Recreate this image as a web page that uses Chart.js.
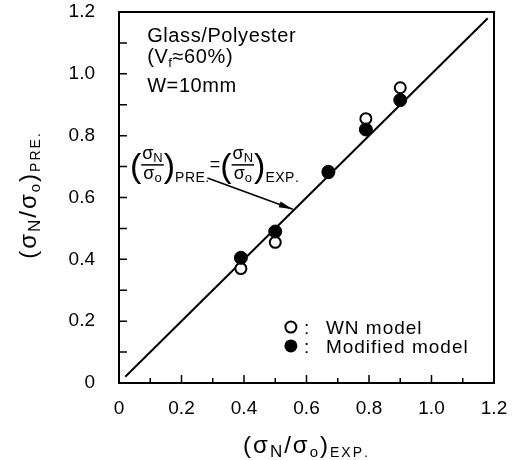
<!DOCTYPE html>
<html>
<head>
<meta charset="utf-8">
<script src="https://cdn.jsdelivr.net/npm/chart.js@4.4.1/dist/chart.umd.min.js"></script>
<style>
  html, body { margin: 0; padding: 0; background: #fff; }
</style>
</head>
<body>
<canvas id="chart" width="512" height="460"></canvas>
<script>
// values
const expRatio = [0.39, 0.50, 0.67, 0.79, 0.90];
const wnModel = [0.37, 0.455, 0.68, 0.855, 0.955];
const modifiedModel = [0.405, 0.49, 0.683, 0.82, 0.915];
const equalityLine = [0.02, 1.18];
const tickLabels = ['0', '0.2', '0.4', '0.6', '0.8', '1.0', '1.2'];
const seriesNames = ['WN model', 'Modified model'];

const FONT = '"Liberation Sans", Arial, sans-serif';

// draws (or just measures) a run of text pieces [text, size, dy]
function parts(ctx, list, x, y, gap, draw) {
  let cx = x;
  for (const [t, size, dy] of list) {
    ctx.font = size + 'px ' + FONT;
    for (const ch of t) {
      if (draw) ctx.fillText(ch, cx, y + dy);
      cx += ctx.measureText(ch).width + gap;
    }
  }
  return cx - x;
}

function fraction(ctx, x, cy, sub) {
  ctx.font = '34px ' + FONT;
  const pw = ctx.measureText('(').width;
  ctx.fillText('(', x, cy + 10);
  const num = [['σ', 18, 0], ['N', 13, 3]];
  const den = [['σ', 18, 0], ['o', 13, 3]];
  const nw = parts(ctx, num, 0, 0, 0, false);
  const dw = parts(ctx, den, 0, 0, 0, false);
  const fw = Math.max(nw, dw) + 2;
  parts(ctx, num, x + pw + (fw - nw) / 2, cy - 8, 0, true);
  parts(ctx, den, x + pw + (fw - dw) / 2, cy + 12, 0, true);
  ctx.lineWidth = 1.5;
  ctx.beginPath();
  ctx.moveTo(x + pw, cy - 2);
  ctx.lineTo(x + pw + fw, cy - 2);
  ctx.stroke();
  ctx.font = '34px ' + FONT;
  ctx.fillText(')', x + pw + fw, cy + 10);
  const w = parts(ctx, [[sub, 14, 0]], x + 2 * pw + fw, cy + 15, 0.5, true);
  return 2 * pw + fw + w;
}

const decorations = {
  id: 'decorations',
  afterDraw(chart) {
    const { ctx, chartArea: a, scales: { x, y } } = chart;
    ctx.save();
    ctx.strokeStyle = '#000';
    ctx.fillStyle = '#000';
    ctx.textBaseline = 'alphabetic';
    ctx.textAlign = 'left';

    // frame
    ctx.lineWidth = 2;
    ctx.strokeRect(a.left, a.top, a.right - a.left, a.bottom - a.top);

    // inward ticks every 0.1
    ctx.lineWidth = 1.5;
    ctx.beginPath();
    for (let i = 1; i < 12; i++) {
      const px = x.getPixelForValue(i / 10);
      const len = i % 2 === 0 ? 8 : 5;
      ctx.moveTo(px, a.bottom);
      ctx.lineTo(px, a.bottom - len);
      const py = y.getPixelForValue(i / 10);
      ctx.moveTo(a.left, py);
      ctx.lineTo(a.left + 8, py);
    }
    ctx.stroke();

    // axis titles
    const xt = [['(', 24, 0], ['σ', 24, 0], ['N', 17, 4], ['/', 24, 0], ['σ', 24, 0], ['o', 15, 4], [')', 24, 0], ['EXP.', 14, 4]];
    const xw = parts(ctx, xt, 0, 0, 2, false);
    parts(ctx, xt, (a.left + a.right) / 2 - xw / 2, 453, 2, true);

    const yt = [['(', 24, 0], ['σ', 24, 0], ['N', 17, 4], ['/', 24, 0], ['σ', 24, 0], ['o', 15, 4], [')', 24, 0], ['PRE.', 14, 4]];
    const yw = parts(ctx, yt, 0, 0, 2, false);
    ctx.save();
    ctx.translate(36, 195);
    ctx.rotate(-Math.PI / 2);
    parts(ctx, yt, -yw / 2, 0, 2, true);
    ctx.restore();

    // material note
    const nx = x.getPixelForValue(0.09);
    parts(ctx, [['Glass/Polyester', 20, 0]], nx, 42, 0.6, true);
    parts(ctx, [['(V', 20, 0], ['f', 13, 4], ['≈60%)', 20, 0]], nx, 63, 0.6, true);
    parts(ctx, [['W=10mm', 20, 0]], nx, 92, 0.6, true);

    // equality annotation
    const ax = x.getPixelForValue(0.035);
    const ay = y.getPixelForValue(0.699);
    let cx = ax + fraction(ctx, ax, ay, 'PRE.');
    cx += parts(ctx, [['=', 18, 0]], cx, ay + 3, 0, true);
    fraction(ctx, cx, ay, 'EXP.');

    // arrow to the line
    const tx = x.getPixelForValue(0.283), ty = y.getPixelForValue(0.663);
    const hx = x.getPixelForValue(0.556), hy = y.getPixelForValue(0.562);
    const ang = Math.atan2(hy - ty, hx - tx);
    ctx.lineWidth = 1.5;
    ctx.beginPath();
    ctx.moveTo(tx, ty);
    ctx.lineTo(hx, hy);
    ctx.stroke();
    ctx.beginPath();
    ctx.moveTo(hx, hy);
    ctx.lineTo(hx - 14 * Math.cos(ang) + 3 * Math.sin(ang), hy - 14 * Math.sin(ang) - 3 * Math.cos(ang));
    ctx.lineTo(hx - 14 * Math.cos(ang) - 3 * Math.sin(ang), hy - 14 * Math.sin(ang) + 3 * Math.cos(ang));
    ctx.closePath();
    ctx.fill();

    // legend
    const lx = x.getPixelForValue(0.55);
    const rows = [y.getPixelForValue(0.181), y.getPixelForValue(0.12)];
    ctx.lineWidth = 2;
    ctx.beginPath();
    ctx.arc(lx, rows[0], 5.5, 0, Math.PI * 2);
    ctx.fillStyle = '#fff';
    ctx.fill();
    ctx.stroke();
    ctx.fillStyle = '#000';
    ctx.beginPath();
    ctx.arc(lx, rows[1], 6.5, 0, Math.PI * 2);
    ctx.fill();
    seriesNames.forEach((name, i) => {
      parts(ctx, [[':', 19, 0]], lx + 13, rows[i] + 7, 0, true);
      parts(ctx, [[name, 19, 0]], lx + 35, rows[i] + 7, 1, true);
    });

    ctx.restore();
  }
};

new Chart(document.getElementById('chart'), {
  type: 'scatter',
  data: {
    datasets: [
      {
        label: seriesNames[1],
        data: expRatio.map((v, i) => ({ x: v, y: modifiedModel[i] })),
        pointRadius: 6.5,
        pointBackgroundColor: '#000',
        pointBorderColor: '#000',
        pointBorderWidth: 1,
        order: 1
      },
      {
        label: seriesNames[0],
        data: expRatio.map((v, i) => ({ x: v, y: wnModel[i] })),
        pointRadius: 5.5,
        pointBackgroundColor: '#fff',
        pointBorderColor: '#000',
        pointBorderWidth: 2,
        order: 2
      },
      {
        type: 'line',
        label: 'equality',
        data: equalityLine.map(v => ({ x: v, y: v })),
        borderColor: '#000',
        borderWidth: 2,
        pointRadius: 0,
        fill: false,
        order: 3
      }
    ]
  },
  options: {
    responsive: false,
    animation: false,
    devicePixelRatio: 1,
    layout: { padding: { top: 12, right: 18, left: 0, bottom: 0 } },
    plugins: { legend: { display: false }, tooltip: { enabled: false } },
    scales: {
      x: {
        type: 'linear',
        min: 0, max: 1.2,
        // grid hidden, tickLength only used to push the labels down
        grid: { display: false, drawTicks: true, tickLength: 14 },
        border: { display: false },
        ticks: {
          stepSize: 0.2,
          padding: 0,
          color: '#000',
          font: { family: FONT, size: 19 },
          maxRotation: 0,
          callback: (v, i) => tickLabels[i]
        },
        afterFit: s => { s.height = 77; }
      },
      y: {
        type: 'linear',
        min: 0, max: 1.2,
        grid: { display: false, drawTicks: true, tickLength: 24 },
        border: { display: false },
        ticks: {
          stepSize: 0.2,
          padding: 0,
          color: '#000',
          font: { family: FONT, size: 19 },
          callback: (v, i) => tickLabels[i]
        },
        afterFit: s => { s.width = 119; }
      }
    }
  },
  plugins: [decorations]
});
</script>
</body>
</html>
